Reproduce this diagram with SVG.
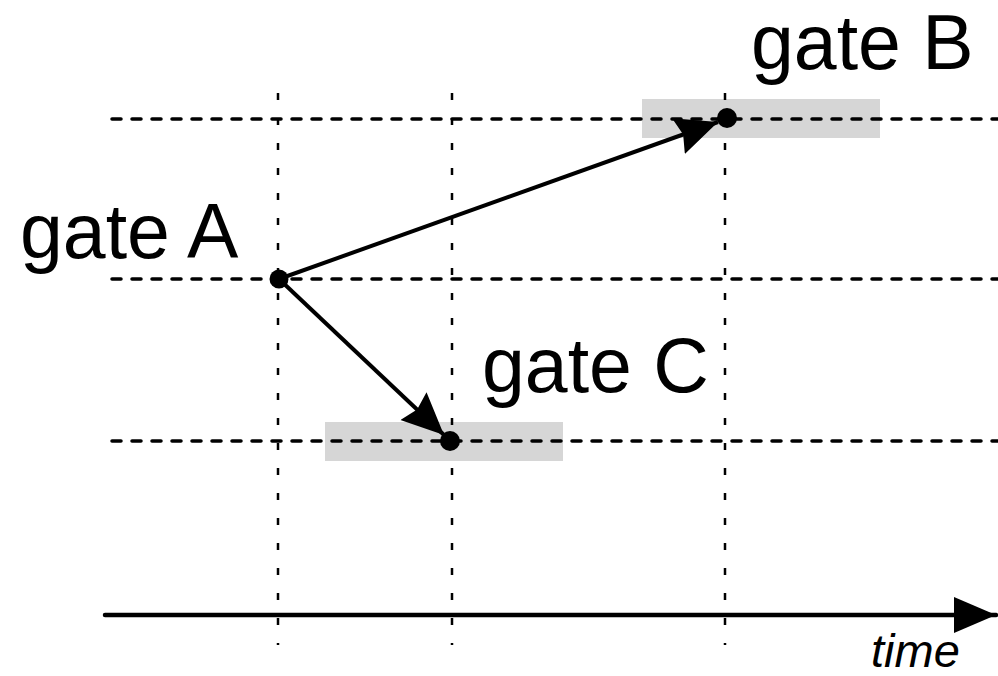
<svg xmlns="http://www.w3.org/2000/svg" width="998" height="676" viewBox="0 0 998 676">
<style>
.hl{stroke:#000;stroke-width:3.5;stroke-dasharray:9 11;stroke-linecap:round;fill:none}
.vl{stroke:#000;stroke-width:2.5;stroke-dasharray:7 18;fill:none}
.hi{fill:#d6d6d6}
.dot{fill:#000}
.lbl{font-family:"Liberation Sans",Arial,sans-serif;font-size:77px;fill:#000}
.edge{stroke:#000;stroke-width:4;fill:none}
</style>
<defs>
<marker id="ah" markerUnits="userSpaceOnUse" markerWidth="46" markerHeight="42" refX="42" refY="21" orient="auto">
<path d="M0,2 L42,21 L0,40 L5,21 Z" fill="#000"/>
</marker>
<marker id="ahT" markerUnits="userSpaceOnUse" markerWidth="44" markerHeight="38" refX="42" refY="19" orient="auto">
<path d="M0,1 L42,19 L0,37 Z" fill="#000"/>
</marker>
</defs>
<g id="highlights">
<rect class="hi" x="642" y="99" width="238" height="39"/>
<rect class="hi" x="325" y="422" width="238" height="39"/>
</g>
<g id="grid">
<line class="hl" x1="112" y1="119" x2="998" y2="119"/>
<line class="hl" x1="112" y1="279" x2="998" y2="279"/>
<line class="hl" x1="112" y1="441" x2="998" y2="441"/>
<line class="vl" x1="278" y1="93" x2="278" y2="645"/>
<line class="vl" x1="452" y1="93" x2="452" y2="645"/>
<line class="vl" x1="725" y1="93" x2="725" y2="645"/>
</g>
<g id="time-axis">
<line x1="105" y1="615" x2="996" y2="615" stroke="#000" stroke-width="4.5" stroke-linecap="round" marker-end="url(#ahT)"/>
<text x="871" y="667" font-family="'Liberation Sans',Arial,sans-serif" font-style="italic" font-size="47">time</text>
</g>
<g id="connectors">
<line class="edge" x1="279" y1="279" x2="718" y2="122" marker-end="url(#ah)"/>
<line class="edge" x1="279" y1="279" x2="444" y2="435" marker-end="url(#ah)"/>
</g>
<g id="gateA">
<circle class="dot" cx="279" cy="279" r="9.5"/>
<text class="lbl" x="20" y="258">gate A</text>
</g>
<g id="gateB">
<circle class="dot" cx="727" cy="118" r="10"/>
<text class="lbl" x="751" y="69">gate B</text>
</g>
<g id="gateC">
<circle class="dot" cx="450" cy="441" r="10"/>
<text class="lbl" x="482" y="392">gate C</text>
</g>
</svg>
